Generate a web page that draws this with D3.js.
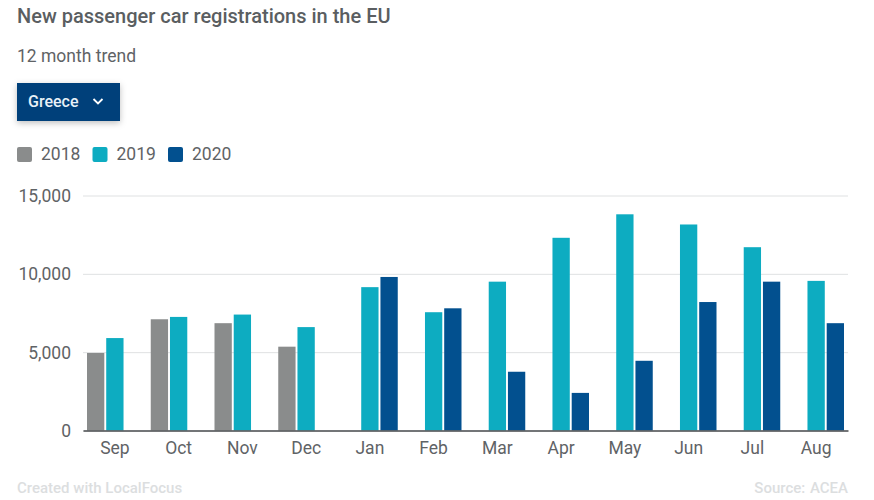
<!DOCTYPE html>
<html>
<head>
<meta charset="utf-8">
<script src="https://cdnjs.cloudflare.com/ajax/libs/d3/7.8.5/d3.min.js"></script>
<style>
  html, body { margin: 0; padding: 0; background: #fff; }
  svg { display: block; font-family: Roboto, sans-serif; }
</style>
</head>
<body>
<div id="chart"></div>
<script>
// Values
const months = ["Sep", "Oct", "Nov", "Dec", "Jan", "Feb", "Mar", "Apr", "May", "Jun", "Jul", "Aug"];
const years = ["2018", "2019", "2020"];
const values2018 = [4950, 7100, 6850, 5350, null, null, null, null, null, null, null, null];
const values2019 = [5900, 7250, 7400, 6600, 9150, 7550, 9500, 12300, 13800, 13150, 11700, 9550];
const values2020 = [null, null, null, null, 9800, 7800, 3750, 2400, 4450, 8200, 9500, 6850];
const yTicks = [0, 5000, 10000, 15000];
const colors = ["#8a8c8c", "#0dacc1", "#02508f"];

const series = [values2018, values2019, values2020];

const width = 874;
const height = 500;
const margin = { top: 195.5, right: 26, bottom: 69.5, left: 83 };

const svg = d3.select("#chart")
  .append("svg")
  .attr("width", width)
  .attr("height", height);

// Drop shadow for the selector button
const shadow = svg.append("defs").append("filter")
  .attr("id", "shadow")
  .attr("x", "-20%").attr("y", "-30%")
  .attr("width", "140%").attr("height", "180%");
shadow.append("feDropShadow")
  .attr("dx", 0).attr("dy", 2)
  .attr("stdDeviation", 3)
  .attr("flood-color", "#000")
  .attr("flood-opacity", 0.25);

// Header
svg.append("text")
  .attr("x", 17).attr("y", 23)
  .style("font-size", "20px").style("font-weight", 500)
  .style("fill", "#5a5e61")
  .text("New passenger car registrations in the EU");

svg.append("text")
  .attr("x", 17).attr("y", 62)
  .style("font-size", "17.5px")
  .style("fill", "#5f6366")
  .text("12 month trend");

// Selector button
svg.append("rect")
  .attr("x", 17).attr("y", 83)
  .attr("width", 103).attr("height", 38)
  .attr("fill", "#003f7a")
  .attr("filter", "url(#shadow)");

svg.append("text")
  .attr("x", 28).attr("y", 107)
  .style("font-size", "16px")
  .style("font-weight", 500)
  .style("fill", "#e8f1f8")
  .text("Greece");

svg.append("path")
  .attr("d", "M93.5 99 L98 103.5 L102.5 99")
  .attr("fill", "none")
  .attr("stroke", "#fff")
  .attr("stroke-width", 1.8);

// Legend
const legendX = [17, 92.5, 168];
const legend = svg.selectAll(".legend")
  .data(years)
  .enter()
  .append("g")
  .attr("class", "legend")
  .attr("transform", (d, i) => `translate(${legendX[i]},147)`);

legend.append("rect")
  .attr("width", 15).attr("height", 15).attr("rx", 2)
  .attr("fill", (d, i) => colors[i]);

legend.append("text")
  .attr("x", 24).attr("y", 13)
  .style("font-size", "17.5px")
  .style("fill", "#5f6366")
  .text(d => d);

// Scales
const x = d3.scaleBand()
  .domain(months)
  .range([margin.left, width - margin.right]);

const xInner = d3.scaleBand()
  .domain(years)
  .range([4, x.bandwidth() - 4])
  .paddingInner(0.1);

const y = d3.scaleLinear()
  .domain([0, 15000])
  .range([height - margin.bottom, margin.top]);

// Y axis with gridlines
const yAxis = svg.append("g")
  .attr("transform", `translate(${margin.left},0)`)
  .call(d3.axisLeft(y)
    .tickValues(yTicks)
    .tickFormat(d3.format(","))
    .tickSize(-(width - margin.left - margin.right))
    .tickPadding(12));

yAxis.select(".domain").remove();
yAxis.selectAll("line").attr("stroke", "#dfe1e2").attr("stroke-width", 1);
yAxis.selectAll("text")
  .attr("dy", "0.35em")
  .style("font-size", "17.5px")
  .style("font-family", "Roboto, sans-serif")
  .style("fill", "#5f6366");

// Bars
series.forEach((values, s) => {
  svg.append("g")
    .selectAll("rect")
    .data(values.map((v, i) => ({ month: months[i], value: v })).filter(d => d.value !== null))
    .enter()
    .append("rect")
    .attr("x", d => x(d.month) + xInner(years[s]))
    .attr("y", d => y(d.value))
    .attr("width", xInner.bandwidth())
    .attr("height", d => y(0) - y(d.value))
    .attr("fill", colors[s]);
});

// X axis
const xAxis = svg.append("g")
  .attr("transform", `translate(0,${height - margin.bottom})`)
  .call(d3.axisBottom(x).tickSize(0).tickPadding(11));

xAxis.select(".domain").attr("stroke", "#4a4d4f").attr("stroke-width", 1.5);
xAxis.selectAll("text")
  .style("font-size", "17.5px")
  .style("font-family", "Roboto, sans-serif")
  .style("fill", "#5f6366");

// Footer
svg.append("text")
  .attr("x", 17).attr("y", 493)
  .style("font-size", "15px").style("font-weight", 500)
  .style("fill", "#dcdedf")
  .text("Created with LocalFocus");

svg.append("text")
  .attr("x", 848).attr("y", 493)
  .attr("text-anchor", "end")
  .style("font-size", "15px").style("font-weight", 500)
  .style("fill", "#dcdedf")
  .style("word-spacing", "1px")
  .text("Source: ACEA");
</script>
</body>
</html>
